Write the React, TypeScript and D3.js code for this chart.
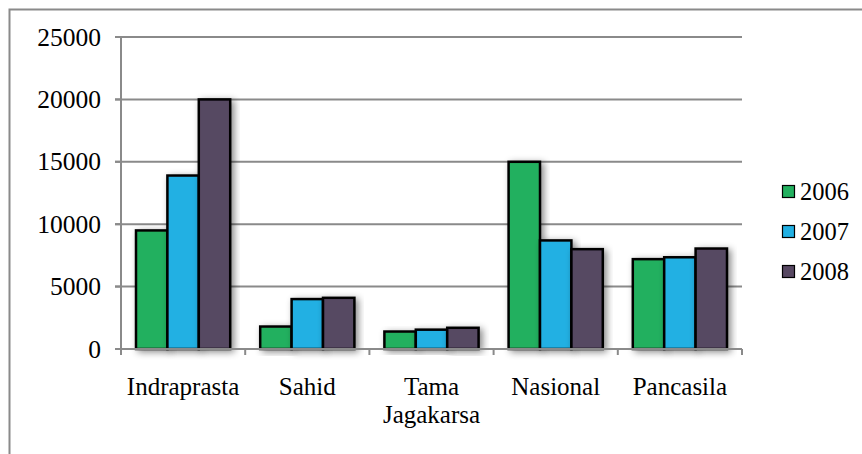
import React from "react";
import * as d3 from "d3";

const categories = ["Indraprasta", "Sahid", "Tama Jagakarsa", "Nasional", "Pancasila"];
const years = ["2006", "2007", "2008"];
const values2006 = [9500, 1800, 1400, 15000, 7200];
const values2007 = [13900, 4000, 1550, 8700, 7350];
const values2008 = [20000, 4100, 1700, 8000, 8050];
const yTicks = [0, 5000, 10000, 15000, 20000, 25000];
const colors = ["#23b05f", "#22b0e3", "#574862"];
const FONT = "'Liberation Serif', 'Times New Roman', Tinos, serif";

const W = 862;
const H = 454;
const left = 121;
const right = 742;
const top = 37;
const bottom = 349;
const gridColor = "#8a8a8a";

const App = () => {
  const series = [values2006, values2007, values2008];
  const x = d3.scaleBand().domain(categories).range([left, right]);
  const xInner = d3
    .scaleBand()
    .domain(years)
    .range([15, x.bandwidth() - 15]);
  const y = d3.scaleLinear().domain([0, 25000]).range([bottom, top]);
  const tickXs = [...categories.map((c) => x(c)!), right];

  return (
    <svg
      className="chart"
      width={W}
      height={H}
      style={{ position: "absolute", left: 0, top: 0, display: "block", background: "#fff" }}
    >
      <style>{`svg.chart text.lbl { font-family: ${FONT} !important; }`}</style>
      <defs>
        <filter id="shadow" x="-30%" y="-30%" width="160%" height="160%">
          <feDropShadow dx={3} dy={2} stdDeviation={3.5} floodColor="#000" floodOpacity={0.45} />
        </filter>
      </defs>

      {/* outer frame */}
      <path d={`M9.5,${H} V9.5 H${W}`} fill="none" stroke={gridColor} strokeWidth={2} />

      {/* gridlines */}
      {yTicks
        .filter((t) => t > 0)
        .map((t) => (
          <line key={t} x1={left - 6} x2={right} y1={y(t)} y2={y(t)} stroke={gridColor} strokeWidth={2} />
        ))}

      {/* bars */}
      {categories.map((c, ci) => (
        <g key={c} transform={`translate(${x(c)},0)`}>
          {years.map((yr, k) => (
            <rect
              key={yr}
              x={xInner(yr)}
              width={xInner.bandwidth()}
              y={y(series[k][ci])}
              height={bottom - y(series[k][ci])}
              fill={colors[k]}
              stroke="#000"
              strokeWidth={2.5}
              filter="url(#shadow)"
            />
          ))}
        </g>
      ))}

      {/* y axis */}
      <line x1={left} x2={left} y1={top} y2={bottom} stroke={gridColor} strokeWidth={2} />
      {yTicks.map((t) => (
        <g key={t}>
          <line x1={left - 6} x2={left} y1={y(t)} y2={y(t)} stroke={gridColor} strokeWidth={2} />
          <text className="lbl" x={101} y={y(t)} dy="0.34em" textAnchor="end" fontSize={25.5}>
            {t}
          </text>
        </g>
      ))}

      {/* x axis */}
      <line x1={left - 6} x2={right} y1={bottom} y2={bottom} stroke={gridColor} strokeWidth={2} />
      {tickXs.map((tx, i) => (
        <line key={i} x1={tx} x2={tx} y1={bottom} y2={bottom + 6} stroke={gridColor} strokeWidth={2} />
      ))}
      {categories.map((c) => {
        const cx = x(c)! + x.bandwidth() / 2;
        const lines = c === "Tama Jagakarsa" ? ["Tama", "Jagakarsa"] : [c];
        return lines.map((ln, i) => (
          <text className="lbl" key={ln} x={cx} y={395 + i * 27.5} textAnchor="middle" fontSize={25}>
            {ln}
          </text>
        ));
      })}

      {/* legend */}
      {years.map((yr, i) => {
        const ly = 192 + i * 40;
        return (
          <g key={yr} transform={`translate(782,${ly})`}>
            <rect x={0.5} y={-6.5} width={12} height={12} fill={colors[i]} stroke="#000" strokeWidth={1.2} />
            <text className="lbl" x={18} dy="0.34em" fontSize={24.5}>
              {yr}
            </text>
          </g>
        );
      })}
    </svg>
  );
};

export default App;
